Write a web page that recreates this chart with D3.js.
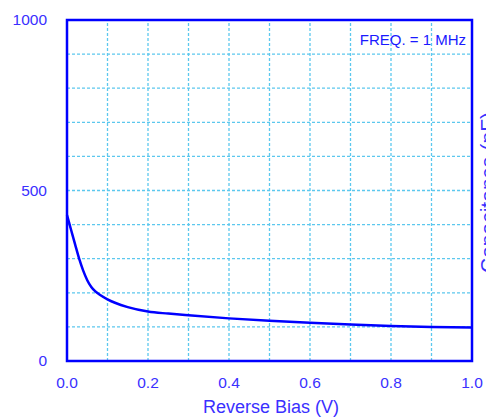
<!DOCTYPE html>
<html>
<head>
<meta charset="utf-8">
<script src="https://cdn.jsdelivr.net/npm/d3@7"></script>
<style>
  body { margin: 0; background: #fff; }
  svg { display: block; font-family: "Liberation Sans", Arial, sans-serif; }
</style>
</head>
<body>
<div id="chart"></div>
<script>
// reverse bias (V) vs capacitance (pF)
const bias = [0, 0.01, 0.02, 0.03, 0.04, 0.05, 0.06, 0.07, 0.08, 0.1, 0.12, 0.15, 0.2, 0.25, 0.3, 0.4, 0.5, 0.6, 0.7, 0.8, 0.9, 1.0];
const capacitance = [428, 385, 342, 300, 265, 237, 217, 204, 195, 181, 170, 158, 145, 139, 134, 125, 118, 112, 107, 103, 100, 98];
const xTicks = [0, 0.2, 0.4, 0.6, 0.8, 1.0];
const yTicks = [0, 500, 1000];
const xGrid = d3.range(1, 10).map(d => d / 10);
const yGrid = d3.range(100, 1000, 100);

const width = 486, height = 419;
const margin = {top: 20, right: 14, bottom: 58, left: 67};
const blue = '#0000ff', textBlue = '#3a30ff', gridBlue = '#5cc8ee';

const svg = d3.select('#chart').append('svg')
    .attr('width', width)
    .attr('height', height);

const x = d3.scaleLinear().domain([0, 1]).range([margin.left, width - margin.right]);
const y = d3.scaleLinear().domain([0, 1000]).range([height - margin.bottom, margin.top]);

// dashed grid
svg.append('g').selectAll('line')
    .data(xGrid).join('line')
    .attr('x1', d => x(d)).attr('x2', d => x(d))
    .attr('y1', y(0)).attr('y2', y(1000))
    .attr('stroke', gridBlue).attr('stroke-width', 1.3).attr('stroke-dasharray', '3,2');

svg.append('g').selectAll('line')
    .data(yGrid).join('line')
    .attr('x1', x(0)).attr('x2', x(1))
    .attr('y1', d => y(d)).attr('y2', d => y(d))
    .attr('stroke', gridBlue).attr('stroke-width', 1.3).attr('stroke-dasharray', '3,2');

// curve
const line = d3.line()
    .x((d, i) => x(bias[i]))
    .y(d => y(d))
    .curve(d3.curveMonotoneX);

svg.append('path')
    .datum(capacitance)
    .attr('d', line)
    .attr('fill', 'none')
    .attr('stroke', blue)
    .attr('stroke-width', 2.5);

// frame
svg.append('rect')
    .attr('x', x(0)).attr('y', y(1000))
    .attr('width', x(1) - x(0)).attr('height', y(0) - y(1000))
    .attr('fill', 'none').attr('stroke', blue).attr('stroke-width', 2.5);

// tick labels
svg.append('g').selectAll('text')
    .data(yTicks).join('text')
    .attr('x', 47).attr('y', d => y(d) + 5)
    .attr('text-anchor', 'end')
    .attr('font-size', 15.5)
    .attr('fill', textBlue)
    .text(d => d);

svg.append('g').selectAll('text')
    .data(xTicks).join('text')
    .attr('x', d => x(d)).attr('y', 388)
    .attr('text-anchor', 'middle')
    .attr('font-size', 15.5)
    .attr('fill', textBlue)
    .text(d3.format('.1f'));

// titles
svg.append('text')
    .attr('x', 271).attr('y', 413)
    .attr('text-anchor', 'middle')
    .attr('font-size', 18)
    .attr('fill', textBlue)
    .text('Reverse Bias (V)');

// right-hand title, partly off the edge as in the original
svg.append('text')
    .attr('transform', 'translate(495,273) rotate(-90)')
    .attr('text-anchor', 'start')
    .attr('font-size', 21)
    .attr('fill', textBlue)
    .text('Capacitance (pF)');

svg.append('text')
    .attr('x', 466).attr('y', 45)
    .attr('text-anchor', 'end')
    .attr('font-size', 15)
    .attr('fill', '#1a1aff')
    .text('FREQ. = 1 MHz');
</script>
</body>
</html>
